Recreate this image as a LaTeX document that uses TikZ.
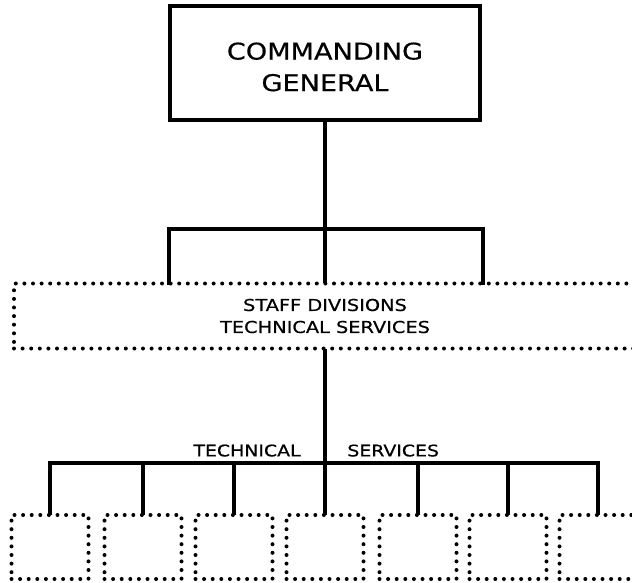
\documentclass[tikz,border=0pt]{standalone}
\usepackage{fontspec}
\setmainfont{DejaVu Sans}[FakeStretch=1.18, FakeBold=0.6]
\usetikzlibrary{positioning}

\begin{document}
\begin{tikzpicture}[x=0.5pt, y=-0.5pt,
    conn/.style={line width=1.7pt, line cap=rect},
    dotline/.style={line width=2pt, line cap=round, dash pattern=on 0pt off 4.3pt},
    unitbox/.style={draw, dotline, minimum width=38.5pt, minimum height=32pt, inner sep=0pt},
    lbl/.style={inner sep=0pt, font=\fontsize{8}{10}\selectfont}]
    \useasboundingbox (0,0) rectangle (632,583);

    \node[draw, line width=2pt, minimum width=155pt, minimum height=57pt,
          font=\fontsize{11.5}{15.75}\selectfont] (cg) at (325,63)
          {\raisebox{-3pt}[\height][\depth]{\begin{tabular}{@{}c@{}}COMMANDING\\GENERAL\end{tabular}}};

    \node[draw, dotline, minimum width=311pt, minimum height=32.5pt, align=center,
          font=\fontsize{8.2}{11}\selectfont] (staff) at (325,316) {STAFF DIVISIONS\\TECHNICAL SERVICES};

    % the seven technical services
    \foreach \x [count=\i] in {50,143,234,325,418,508,598}
        \node[unitbox] (svc\i) at (\x,547) {};

    \coordinate (sbar) at (325,229);
    \coordinate (sd1) at (169,283.5);
    \coordinate (sd3) at (483,283.5);
    \coordinate (tbar) at (325,463);

    \draw[conn] (cg.south) -- (sbar);
    \draw[conn] (sd1) |- (sbar) -| (sd3);
    \draw[conn] (sbar) -- (staff.north);

    \draw[conn] (staff.south) -- (tbar);
    \draw[conn] (svc1.north) |- (tbar) -| (svc7.north);
    \foreach \i in {2,...,6}
        \draw[conn] (svc\i.north) -- (svc\i.north |- tbar);

    \node[lbl, above left=3pt and 12pt of tbar] (techlbl) {TECHNICAL};
    \node[lbl, above right=3pt and 11pt of tbar] (servlbl) {SERVICES};
\end{tikzpicture}
\end{document}
